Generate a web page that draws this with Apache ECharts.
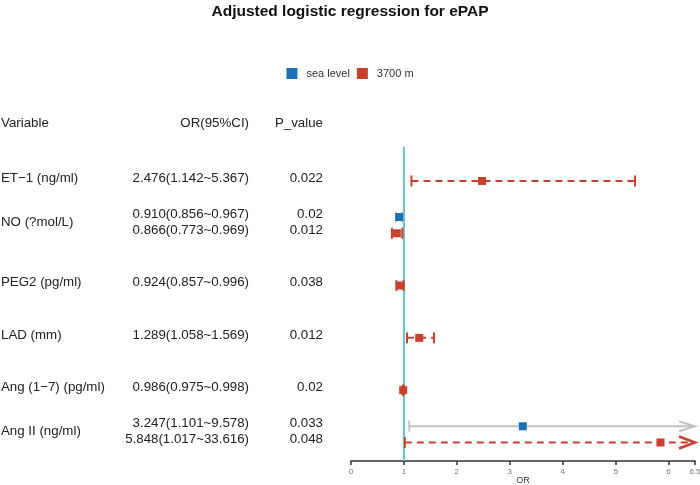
<!DOCTYPE html>
<html>
<head>
<meta charset="utf-8">
<script src="https://cdn.jsdelivr.net/npm/echarts@6/dist/echarts.min.js"></script>
<style>html,body{margin:0;padding:0;background:#fff;}#chart{width:700px;height:485px;}</style>
</head>
<body>
<div id="chart"></div>
<script>
const titleText = 'Adjusted logistic regression for ePAP';
const headers = ['Variable', 'OR(95%CI)', 'P_value'];
const variables = ['ET\u22121 (ng/ml)', 'NO (?mol/L)', 'PEG2 (pg/ml)', 'LAD (mm)', 'Ang (1\u22127) (pg/ml)', 'Ang II (ng/ml)'];
const seaOR   = [null, 0.910, null, null, null, 3.247];
const seaLow  = [null, 0.856, null, null, null, 1.101];
const seaHigh = [null, 0.967, null, null, null, 9.578];
const seaP    = [null, '0.02', null, null, null, '0.033'];
const altOR   = [2.476, 0.866, 0.924, 1.289, 0.986, 5.848];
const altLow  = [1.142, 0.773, 0.857, 1.058, 0.975, 1.017];
const altHigh = [5.367, 0.969, 0.996, 1.569, 0.998, 33.616];
const altP    = ['0.022', '0.012', '0.038', '0.012', '0.02', '0.048'];
const xMin = 0, xMax = 6.5, xInterval = 1;
const refValue = 1;

const RED = '#c8412f', BLUE = '#1b71b6', GRAY = '#c4c4c4', TEAL = '#6cc6cc';
const FONT = '13.3px "Liberation Sans", Arial, sans-serif';
const TXT = '#222';
const Y_MIN = -1.5, Y_MAX = 5.354;
const BLUE_OFF = -0.31, MID_OFF = -0.155, HEADER_Y = -1.05, REF_TOP = -0.654;
const TEXT_SHIFT = -3;

function fmt(o, l, h) { return o.toFixed(3) + '(' + l.toFixed(3) + '~' + h.toFixed(3) + ')'; }

const tableData = variables.map((v, i) => [0, i]);
const seaData = [], altData = [];
variables.forEach((v, i) => {
  if (seaOR[i] != null) seaData.push([seaOR[i], i + BLUE_OFF, seaLow[i], seaHigh[i]]);
  altData.push([altOR[i], i, altLow[i], altHigh[i]]);
});

function ciRender(lineColor, pointColor, dashed) {
  return function (params, api) {
    const y = api.value(1);
    const lo = api.value(2), hi = api.value(3), or = api.value(0);
    const pLo = api.coord([lo, y]);
    const clipped = hi > xMax;
    const pHi = api.coord([clipped ? xMax : hi, y]);
    const pOr = api.coord([or, y]);
    const children = [];
    const lineStyle = { stroke: lineColor, lineWidth: 2, lineDash: dashed ? [7, 5] : null };
    children.push({ type: 'line', shape: { x1: pLo[0], y1: pLo[1], x2: pHi[0], y2: pHi[1] }, style: lineStyle });
    children.push({ type: 'line', shape: { x1: pLo[0], y1: pLo[1] - 5.5, x2: pLo[0], y2: pLo[1] + 5.5 }, style: { stroke: lineColor, lineWidth: 2 } });
    if (clipped) {
      const back = 16, half = dashed ? 6 : 5;
      children.push({ type: 'polyline', shape: { points: [[pHi[0] - back, pHi[1] - half], [pHi[0], pHi[1]], [pHi[0] - back, pHi[1] + half]] }, style: { stroke: lineColor, lineWidth: dashed ? 2.6 : 2, fill: null } });
    } else {
      children.push({ type: 'line', shape: { x1: pHi[0], y1: pHi[1] - 5.5, x2: pHi[0], y2: pHi[1] + 5.5 }, style: { stroke: lineColor, lineWidth: 2 } });
    }
    children.push({ type: 'rect', shape: { x: pOr[0] - 4, y: pOr[1] - 4, width: 8, height: 8 }, style: { fill: pointColor } });
    return { type: 'group', children: children };
  };
}

const chart = echarts.init(document.getElementById('chart'), null, { renderer: 'canvas' });
chart.setOption({
  backgroundColor: '#fff',
  animation: false,
  title: { text: titleText, left: 'center', top: -1, textStyle: { fontSize: 15.5, fontWeight: 'bold', color: '#111', fontFamily: '"Liberation Sans", Arial, sans-serif' } },
  legend: {
    data: ['sea level', '3700 m'], top: 63, left: 'center', icon: 'rect', itemWidth: 11, itemHeight: 11, itemGap: 7,
    textStyle: { fontSize: 11, color: '#333', padding: [0, 0, 0, 4], fontFamily: '"Liberation Sans", Arial, sans-serif' }
  },
  grid: { left: 351, right: 5, top: 102.5, bottom: 24, outerBoundsMode: 'none', containLabel: false },
  xAxis: {
    type: 'value', min: xMin, max: xMax, interval: xInterval,
    name: 'OR', nameLocation: 'middle', nameGap: 15, nameMoveOverlap: false, nameTextStyle: { fontSize: 9, color: '#333', verticalAlign: 'top' },
    axisLine: { show: true, onZero: false, lineStyle: { color: '#333', width: 1.5 } },
    axisTick: { show: true, length: 4, lineStyle: { color: '#333', width: 1.5 } },
    axisLabel: { fontSize: 8, color: '#777', margin: 7, showMaxLabel: true, showMinLabel: true },
    splitLine: { show: false }
  },
  yAxis: { type: 'value', inverse: true, min: Y_MIN, max: Y_MAX, show: false },
  series: [
    {
      type: 'custom', name: 'ref', silent: true, clip: false, z: 1,
      data: [[refValue, REF_TOP]],
      renderItem: function (params, api) {
        const a = api.coord([api.value(0), api.value(1)]);
        const b = api.coord([api.value(0), Y_MAX]);
        return { type: 'line', shape: { x1: a[0], y1: a[1], x2: b[0], y2: b[1] }, style: { stroke: TEAL, lineWidth: 2.2 } };
      }
    },
    {
      type: 'custom', name: 'table', silent: true, clip: false, z: 3,
      data: [[0, HEADER_Y, -1]].concat(tableData.map(d => [0, d[1], d[1]])),
      renderItem: function (params, api) {
        const idx = api.value(2);
        const els = [];
        const mk = (t, x, y, align) => ({ type: 'text', x: x, y: y + TEXT_SHIFT, style: { text: t, fill: TXT, font: FONT, align: align, verticalAlign: 'middle' } });
        if (idx < 0) {
          const y = api.coord([0, HEADER_Y])[1];
          els.push(mk(headers[0], 1, y, 'left'), mk(headers[1], 249, y, 'right'), mk(headers[2], 323, y, 'right'));
        } else {
          const i = idx;
          const yAlt = api.coord([0, i])[1];
          const two = seaOR[i] != null;
          const yVar = two ? api.coord([0, i + MID_OFF])[1] : yAlt;
          els.push(mk(variables[i], 1, yVar, 'left'));
          if (two) {
            const yS = api.coord([0, i + BLUE_OFF])[1];
            els.push(mk(fmt(seaOR[i], seaLow[i], seaHigh[i]), 249, yS, 'right'));
            els.push(mk(seaP[i], 323, yS, 'right'));
          }
          els.push(mk(fmt(altOR[i], altLow[i], altHigh[i]), 249, yAlt, 'right'));
          els.push(mk(altP[i], 323, yAlt, 'right'));
        }
        return { type: 'group', children: els };
      }
    },
    {
      type: 'custom', name: 'sea level', clip: false, z: 4, itemStyle: { color: BLUE },
      data: seaData, renderItem: ciRender(GRAY, BLUE, false)
    },
    {
      type: 'custom', name: '3700 m', clip: false, z: 5, itemStyle: { color: RED },
      data: altData, renderItem: ciRender(RED, RED, true)
    }
  ]
});
</script>
</body>
</html>
